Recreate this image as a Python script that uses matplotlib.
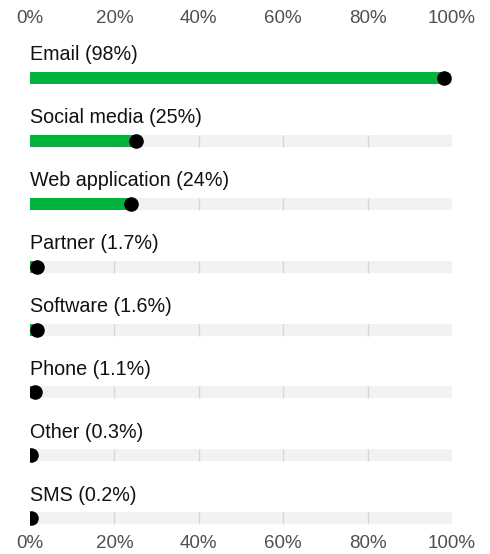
import matplotlib
matplotlib.use("Agg")
import matplotlib.pyplot as plt

categories = ["Email", "Social media", "Web application", "Partner",
              "Software", "Phone", "Other", "SMS"]
values = [98, 25, 24, 1.7, 1.6, 1.1, 0.3, 0.2]
value_labels = ["98%", "25%", "24%", "1.7%", "1.6%", "1.1%", "0.3%", "0.2%"]
ticks = [0, 20, 40, 60, 80, 100]
tick_labels = ["0%", "20%", "40%", "60%", "80%", "100%"]

plt.rcParams['font.family'] = ['Liberation Sans', 'DejaVu Sans']

W, H = 490, 554
fig = plt.figure(figsize=(W / 100, H / 100), dpi=100)
left_px, right_px = 30, 452
top_px, bot_px = 30, 532
ax = fig.add_axes([left_px / W, 1 - bot_px / H, (right_px - left_px) / W, (bot_px - top_px) / H])

n = len(categories)
row_px = 62.9
ax.set_xlim(0, 100)
ax.set_ylim(n - 1 + (bot_px - (78 + row_px * (n - 1))) / row_px, -(78 - top_px) / row_px)

bar_h = 12 / row_px
green = "#00b33c"
track = "#f2f2f2"
grid = "#d6d6d6"

for i, (c, v, vl) in enumerate(zip(categories, values, value_labels)):
    ax.barh(i, 100, height=bar_h, color=track, edgecolor="none", zorder=1)
    for t in ticks[1:-1]:
        ax.vlines(t, i - bar_h / 2, i + bar_h / 2, color=grid, lw=1, zorder=2)
    ax.barh(i, v, height=bar_h, color=green, edgecolor="none", zorder=3)
    ax.scatter([v], [i], s=110, color="black", zorder=4, clip_on=True, linewidths=0)
    ax.text(0, i - 0.37, f"{c} ({vl})", ha="left", va="center", fontsize=14.2,
            color="#111111")

ax.set_xticks(ticks)
ax.set_xticklabels(tick_labels)
ax.tick_params(axis="x", which="both", length=0, labelsize=13.5, labelcolor="#505050",
               top=True, labeltop=True, bottom=True, labelbottom=True, pad=2)
ax.set_yticks([])
for s in ax.spines.values():
    s.set_visible(False)

fig.savefig("out.png", dpi=100)
